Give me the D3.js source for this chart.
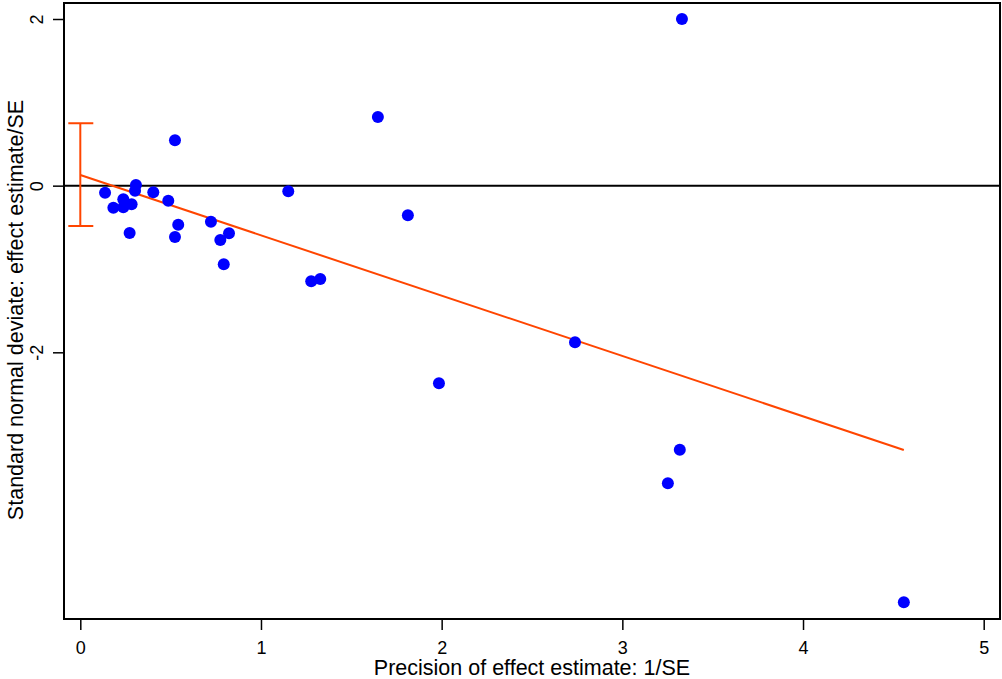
<!DOCTYPE html>
<html><head><meta charset="utf-8">
<script src="https://cdn.jsdelivr.net/npm/d3@7"></script>
<style>body{margin:0;background:#fff}svg{display:block;font-family:"Liberation Sans",Arial,sans-serif}</style>
</head><body><svg id="c" width="1002" height="679"></svg>
<script>
const precision = [0.137,0.183,0.238,0.238,0.284,0.308,0.303,0.273,0.404,0.487,0.524,0.542,0.524,0.723,0.775,0.823,0.794,1.151,1.278,1.328,1.647,1.813,1.985,2.738,3.33,3.318,3.252,4.558];
const snd = [-0.084,-0.264,-0.164,-0.26,-0.224,0.008,-0.06,-0.568,-0.08,-0.18,0.545,-0.468,-0.616,-0.432,-0.652,-0.572,-0.944,-0.067,-1.146,-1.12,0.824,-0.356,-2.37,-1.88,2.0,-3.17,-3.57,-5.0];
const xTicks = [0,1,2,3,4,5];
const yTicks = [-2,0,2];
const intercept = 0.128, slope = -0.724;
const ciLow = -0.484, ciHigh = 0.749;

const svg = d3.select("#c");
const x = d3.scaleLinear().domain([0,5]).range([80.3,983.7]);
const y = d3.scaleLinear().domain([-5,2]).range([602.3,19]);
const L=64, R=1000, T=3, B=619;

svg.append("line").attr("x1",L).attr("x2",R).attr("y1",y(0)).attr("y2",y(0)).attr("stroke","#000").attr("stroke-width",2);

const xmax = d3.max(precision);
svg.append("line").attr("x1",x(0)).attr("y1",y(intercept)).attr("x2",x(xmax)).attr("y2",y(intercept+slope*xmax))
  .attr("stroke","#FF4500").attr("stroke-width",2);

const eb = svg.append("g").attr("stroke","#FF4500").attr("stroke-width",2);
eb.append("line").attr("x1",x(0)).attr("x2",x(0)).attr("y1",y(ciLow)).attr("y2",y(ciHigh));
eb.append("line").attr("x1",x(0)-12).attr("x2",x(0)+13).attr("y1",y(ciLow)).attr("y2",y(ciLow));
eb.append("line").attr("x1",x(0)-12).attr("x2",x(0)+13).attr("y1",y(ciHigh)).attr("y2",y(ciHigh));

svg.append("g").selectAll("circle").data(precision).join("circle")
  .attr("cx",(d)=>x(d)).attr("cy",(d,i)=>y(snd[i])).attr("r",6).attr("fill","#0000FF");

svg.append("rect").attr("x",L).attr("y",T).attr("width",R-L).attr("height",B-T).attr("fill","none").attr("stroke","#000").attr("stroke-width",2);

const xa = svg.append("g").attr("transform",`translate(0,${B})`)
  .call(d3.axisBottom(x).tickValues(xTicks).tickSize(11).tickPadding(6).tickFormat(d3.format("d")));
xa.select(".domain").remove();
xa.selectAll("line").attr("stroke-width",1.5);
xa.selectAll("text").attr("font-size",18).attr("font-family","Liberation Sans, Arial, sans-serif").attr("fill","#000")
  .attr("dy",0).attr("y",35);

const ya = svg.append("g").attr("transform",`translate(${L},0)`)
  .call(d3.axisLeft(y).tickValues(yTicks).tickSize(11).tickFormat(d=>d<0?"-"+Math.abs(d):String(d)));
ya.select(".domain").remove();
ya.selectAll("line").attr("stroke-width",1.5);
ya.selectAll("text").attr("font-size",18).attr("font-family","Liberation Sans, Arial, sans-serif").attr("fill","#000")
  .attr("text-anchor","middle").attr("x",0).attr("dy",0)
  .attr("transform","translate(-21,0) rotate(-90)");

svg.append("text").attr("x",532).attr("y",675).attr("text-anchor","middle").attr("font-size",21.5).text("Precision of effect estimate: 1/SE");
svg.append("text").attr("transform","translate(23,310) rotate(-90)").attr("text-anchor","middle").attr("font-size",21.5).text("Standard normal deviate: effect estimate/SE");
</script></body></html>
